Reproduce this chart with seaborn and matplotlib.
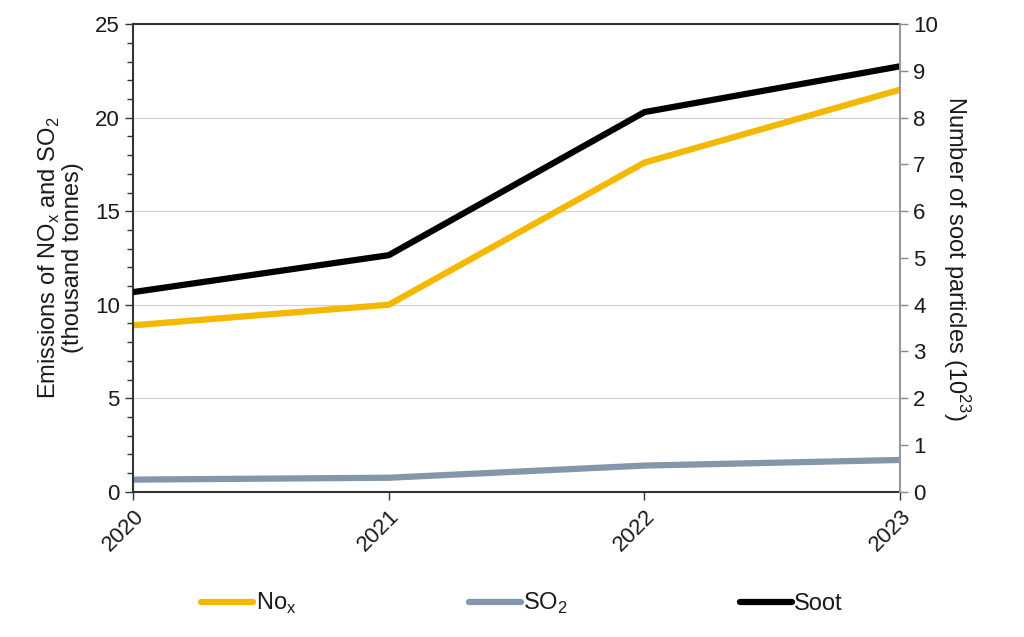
import pandas as pd
import seaborn as sns
import matplotlib.pyplot as plt
from matplotlib.ticker import MultipleLocator

# Data
years = [2020, 2021, 2022, 2023]
nox = [8.9, 10.0, 17.6, 21.5]      # thousand tonnes
so2 = [0.65, 0.75, 1.4, 1.7]       # thousand tonnes
soot = [4.27, 5.06, 8.12, 9.1]     # 10^23 particles

sns.set_theme(style="white")
plt.rcParams['font.family'] = ['Liberation Sans', 'DejaVu Sans']
plt.rcParams['text.color'] = '#1a1a1a'
plt.rcParams['axes.labelcolor'] = '#1a1a1a'

df = pd.DataFrame({"year": years, "NOx": nox, "SO2": so2, "Soot": soot})

fig, ax = plt.subplots(figsize=(10.24, 6.37), dpi=100)
fig.subplots_adjust(left=0.130, right=0.879, bottom=0.228, top=0.962)
ax2 = ax.twinx()

lw = 4.5
sns.lineplot(data=df, x="year", y="NOx", ax=ax, color="#F5B800", lw=lw, label="No$_\\mathregular{x}$", legend=False)
sns.lineplot(data=df, x="year", y="SO2", ax=ax, color="#8496A9", lw=lw, label="SO$_\\mathregular{2}$", legend=False)
sns.lineplot(data=df, x="year", y="Soot", ax=ax2, color="black", lw=lw, label="Soot", legend=False)

ax.set_xlim(2020, 2023)
ax.set_ylim(0, 25)
ax2.set_ylim(0, 10)
ax.set_xticks(years)
ax.set_xticklabels([str(y) for y in years], rotation=45, ha="right", rotation_mode="anchor", fontsize=16)
ax.yaxis.set_major_locator(MultipleLocator(5))
ax.yaxis.set_minor_locator(MultipleLocator(1))
ax2.yaxis.set_major_locator(MultipleLocator(1))

ax.grid(axis="y", which="major", color="#D0D0D0", lw=0.8)
ax.tick_params(axis="y", which="major", direction="out", length=6, width=1, color="#333333", labelsize=16, left=True, labelcolor="#1a1a1a")
ax.tick_params(axis="y", which="minor", direction="out", length=4, width=1, color="#333333", left=True)
ax.tick_params(axis="x", direction="out", length=6, width=1, color="#333333", bottom=True, pad=4, labelcolor="#1a1a1a")
ax2.tick_params(axis="y", direction="out", length=6, width=1, color="#888888", labelsize=16, right=True, labelcolor="#1a1a1a")

for s in ["left", "bottom", "top"]:
    ax.spines[s].set_color("#333333")
    ax.spines[s].set_linewidth(1.5)
ax.spines["right"].set_visible(False)
ax2.spines["right"].set_color("#999999")
ax2.spines["right"].set_linewidth(1.5)
for s in ["left", "bottom", "top"]:
    ax2.spines[s].set_visible(False)

ax.set_xlabel("")
ax.set_ylabel("Emissions of NO$_\\mathregular{x}$ and SO$_\\mathregular{2}$\n(thousand tonnes)", fontsize=17, labelpad=8, linespacing=1.0)
ax2.set_ylabel("Number of soot particles (10$^\\mathregular{23}$)", fontsize=17, rotation=270, labelpad=24)

h1, l1 = ax.get_legend_handles_labels()
h2, l2 = ax2.get_legend_handles_labels()
fig.legend(h1 + h2, l1 + l2, loc="center", bbox_to_anchor=(0.51, 0.052), ncol=3,
           frameon=False, fontsize=17, columnspacing=7.3, handlelength=2.2, handletextpad=0.1)

plt.savefig("out.png", dpi=100)
plt.close()
